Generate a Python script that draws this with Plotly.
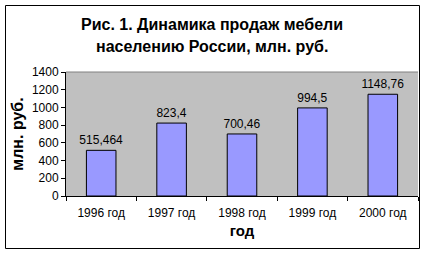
import plotly.graph_objects as go

categories = ["1996 год", "1997 год", "1998 год", "1999 год", "2000 год"]
values = [515.464, 823.4, 700.46, 994.5, 1148.76]
labels = ["515,464", "823,4", "700,46", "994,5", "1148,76"]
y_ticks = [0, 200, 400, 600, 800, 1000, 1200, 1400]

W, H = 426, 254
L, R, T, B = 66, 8, 72, 58
pw, ph = W - L - R, H - T - B

def px_x(x):
    return (x - L) / pw

def px_y(y):
    return (H - B - y) / ph

fig = go.Figure(go.Bar(
    x=categories, y=values, text=labels, textposition="outside",
    constraintext="none",
    textfont=dict(family="Arial, Liberation Sans", size=12, color="black"),
    marker=dict(color="#9999FF", line=dict(color="black", width=1)),
    cliponaxis=False,
))

fig.update_layout(
    width=W, height=H,
    margin=dict(l=L, r=R, t=T, b=B),
    paper_bgcolor="white", plot_bgcolor="#C0C0C0",
    bargap=0.58, showlegend=False,
    font=dict(family="Arial, Liberation Sans", size=12, color="black"),
    xaxis=dict(type="category", tickson="boundaries", ticks="outside", ticklen=4,
               tickcolor="black", showline=True, linecolor="black", linewidth=1,
               showgrid=False, mirror=False, ticklabelstandoff=6,
               title=dict(text="<b>год</b>", font=dict(size=15), standoff=6)),
    yaxis=dict(range=[0, 1400], tickvals=y_ticks, ticks="outside", ticklen=4,
               tickcolor="black", showline=True, linecolor="black", linewidth=1,
               showgrid=False, zeroline=False,
               title=dict(text="<b>млн. руб.</b>", font=dict(size=16), standoff=4)),
    annotations=[
        dict(text="<b>Рис. 1. Динамика продаж мебели</b>", xref="paper", yref="paper",
             x=px_x(212), y=px_y(25), xanchor="center", yanchor="middle",
             showarrow=False, font=dict(size=16)),
        dict(text="<b>населению России, млн. руб.</b>", xref="paper", yref="paper",
             x=px_x(212), y=px_y(47), xanchor="center", yanchor="middle",
             showarrow=False, font=dict(size=16)),
    ],
    shapes=[
        dict(type="line", xref="paper", yref="paper", x0=0, x1=1, y0=1, y1=1,
             line=dict(color="#808080", width=1)),
        dict(type="rect", xref="paper", yref="paper",
             x0=px_x(5.5), x1=px_x(419.5), y0=px_y(248.5), y1=px_y(5.5),
             line=dict(color="black", width=1)),
    ],
)

fig.write_html("out.html")
